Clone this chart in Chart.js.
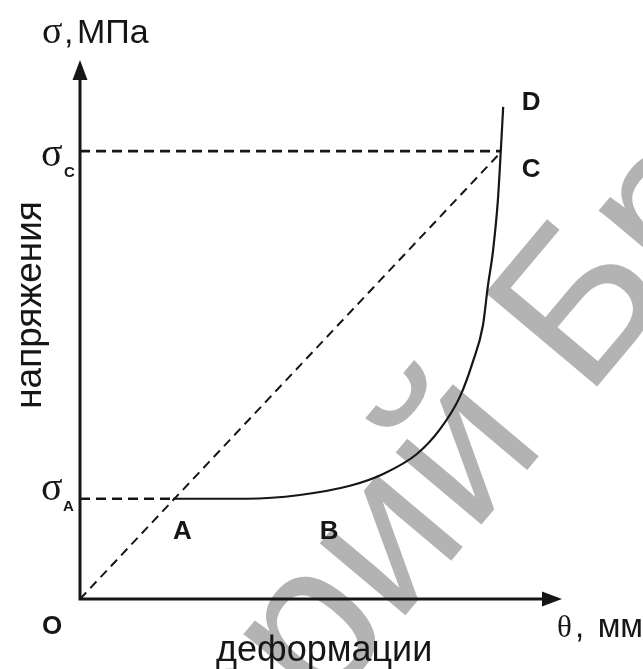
<!DOCTYPE html>
<html>
<head>
<meta charset="utf-8">
<script src="https://cdn.jsdelivr.net/npm/chart.js@4/dist/chart.umd.min.js"></script>
<style>
  html, body { margin: 0; padding: 0; background: #fff; }
  #wrap { position: relative; width: 643px; height: 669px; }
</style>
</head>
<body>
<div id="wrap"><canvas id="c"></canvas></div>
<script>
// Stress–deformation diagram (σ vs θ), arbitrary units 0..100 on both axes
const sigmaA = 18.6;          // σA level
const sigmaC = 83.1;          // σC level
const pointAx = 19.3;         // deformation at A
const pointCx = 87.3;         // deformation at C

// Loading curve A → B → C → D
const curveX = [19.3, 34.6, 45.6, 56.0, 62.9, 69.9, 74.7, 78.8, 81.5, 83.6, 84.6, 85.7, 86.7, 87.3, 87.8];
const curveY = [18.6, 18.6, 19.3, 21.0, 23.2, 26.9, 31.5, 37.5, 44.0, 50.8, 57.9, 64.7, 74.0, 83.1, 91.3];

const axisLabelY = 'напряжения';
const axisLabelX = 'деформации';
const watermark = 'Репозиторий БрГТУ';

const ink = '#161616';
const curvePts = curveX.map((x, i) => ({ x, y: curveY[i] }));

const overlay = {
  id: 'overlay',
  beforeDatasetsDraw(chart) {
    const ctx = chart.ctx;
    // faint repository stamp across the plot
    ctx.save();
    ctx.fillStyle = '#b3b3b3';
    ctx.font = '212px "Liberation Sans", Arial, sans-serif';
    ctx.translate(468, 455);
    ctx.rotate(-50 * Math.PI / 180);
    const pre = ctx.measureText('Репозитори').width;
    const yw = ctx.measureText('й').width;
    ctx.textBaseline = 'alphabetic';
    ctx.fillText(watermark, -(pre + yw / 2), 55);
    ctx.restore();
  },
  afterDatasetsDraw(chart) {
    const ctx = chart.ctx;
    const xs = chart.scales.x, ys = chart.scales.y;
    const x0 = xs.getPixelForValue(0), y0 = ys.getPixelForValue(0);
    const xEnd = xs.getPixelForValue(100), yEnd = ys.getPixelForValue(100);

    ctx.save();
    ctx.strokeStyle = ink;
    ctx.fillStyle = ink;
    ctx.lineWidth = 3;
    // axes
    ctx.beginPath();
    ctx.moveTo(x0, y0 + 1.5);
    ctx.lineTo(x0, yEnd + 16);
    ctx.moveTo(x0 - 1.5, y0);
    ctx.lineTo(xEnd - 16, y0);
    ctx.stroke();
    // arrowheads
    ctx.beginPath();
    ctx.moveTo(x0, yEnd);
    ctx.lineTo(x0 - 7.5, yEnd + 20);
    ctx.lineTo(x0 + 7.5, yEnd + 20);
    ctx.closePath();
    ctx.fill();
    ctx.beginPath();
    ctx.moveTo(xEnd, y0);
    ctx.lineTo(xEnd - 20, y0 - 7.5);
    ctx.lineTo(xEnd - 20, y0 + 7.5);
    ctx.closePath();
    ctx.fill();

    ctx.textBaseline = 'alphabetic';
    ctx.textAlign = 'left';
    const sans = '"Liberation Sans", Arial, sans-serif';
    const serif = '"Liberation Serif", "Times New Roman", serif';

    // axis titles
    ctx.font = '38px ' + serif;
    ctx.fillText('σ', 42, 43);
    ctx.font = '34px ' + sans;
    ctx.fillText(',', 64, 43);
    ctx.fillText('МПа', 77, 43);

    ctx.font = '31px ' + serif;
    ctx.fillText('θ', 557, 637);
    ctx.font = '33px ' + sans;
    ctx.fillText(',', 575, 637);
    ctx.textAlign = 'right';
    ctx.fillText('мм', 643, 637);
    ctx.textAlign = 'left';

    // level marks σC, σA
    const yC = ys.getPixelForValue(sigmaC), yA = ys.getPixelForValue(sigmaA);
    ctx.font = '40px ' + serif;
    ctx.fillText('σ', 41, yC + 15);
    ctx.fillText('σ', 41, yA + 1);
    ctx.font = 'bold 15px ' + sans;
    ctx.fillText('C', 64, yC + 26);
    ctx.fillText('A', 63, yA + 12);

    // point letters
    ctx.font = 'bold 26px ' + sans;
    ctx.fillText('O', 42, y0 + 35);
    ctx.fillText('A', xs.getPixelForValue(pointAx), yA + 40);
    ctx.fillText('B', xs.getPixelForValue(curveX[2]) + 20, yA + 40);
    const xC = xs.getPixelForValue(pointCx);
    ctx.fillText('C', xC + 21, yC + 26);
    ctx.fillText('D', xC + 21, ys.getPixelForValue(curveY[curveY.length - 1]) + 3);

    // descriptive axis captions
    ctx.font = '36px ' + sans;
    ctx.fillText(axisLabelX, 216, 661);
    ctx.save();
    ctx.font = '37px ' + sans;
    ctx.translate(41, 305);
    ctx.rotate(-Math.PI / 2);
    ctx.textAlign = 'center';
    ctx.fillText(axisLabelY, 0, 0);
    ctx.restore();

    ctx.restore();
  }
};

new Chart(document.getElementById('c'), {
  type: 'scatter',
  data: {
    datasets: [
      { // σC level
        data: [{ x: 0, y: sigmaC }, { x: pointCx, y: sigmaC }],
        showLine: true, borderColor: ink, borderWidth: 2.6, borderDash: [10, 6],
        pointRadius: 0
      },
      { // σA level
        data: [{ x: 0, y: sigmaA }, { x: pointAx, y: sigmaA }],
        showLine: true, borderColor: ink, borderWidth: 2.6, borderDash: [10, 6],
        pointRadius: 0
      },
      { // secant O → C
        data: [{ x: 0, y: 0 }, { x: pointCx - 0.4, y: sigmaC - 0.6 }],
        showLine: true, borderColor: ink, borderWidth: 2, borderDash: [9, 6],
        pointRadius: 0
      },
      { // loading curve
        data: curvePts,
        showLine: true, borderColor: ink, borderWidth: 2.2,
        cubicInterpolationMode: 'monotone', pointRadius: 0
      }
    ]
  },
  options: {
    responsive: true,
    maintainAspectRatio: false,
    animation: false,
    events: [],
    layout: { padding: { left: 80, right: 81, top: 60, bottom: 70 } },
    plugins: { legend: { display: false }, tooltip: { enabled: false } },
    scales: {
      x: { type: 'linear', min: 0, max: 100, display: false },
      y: { type: 'linear', min: 0, max: 100, display: false }
    }
  },
  plugins: [overlay]
});
</script>
</body>
</html>
